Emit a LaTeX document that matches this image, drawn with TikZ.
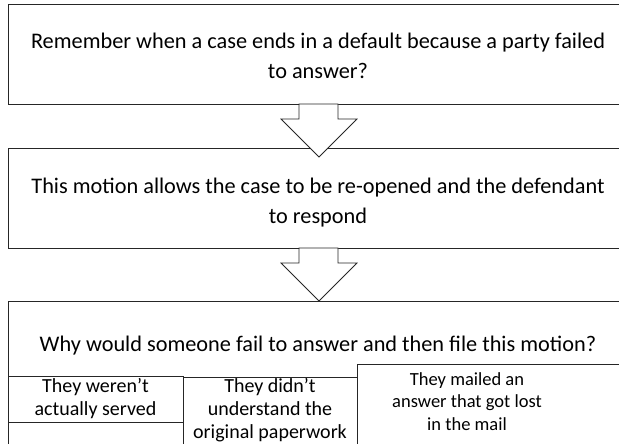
\documentclass[tikz,border=0pt]{standalone}
\usepackage{fontspec}
\setmainfont{Carlito}
\tikzset{
  box/.style={draw=black!85, line width=0.8pt, fill=white},
  bigarrow/.style={draw=black!85, line width=0.8pt, fill=white, line join=miter},
  maintext/.style={font=\fontsize{22.3}{30}\selectfont, align=center, inner sep=0pt, anchor=base},
  subtext/.style={font=\fontsize{20}{23}\selectfont, align=center, inner sep=0pt, anchor=base},
  smalltext/.style={font=\fontsize{18.5}{22.5}\selectfont, align=center, inner sep=0pt, anchor=base}
}
\begin{document}
\begin{tikzpicture}[x=1pt,y=-1pt]
\useasboundingbox (0,0) rectangle (619,444);
\clip (0,0) rectangle (619,444);
% boxes
\path[box] (8,4) rectangle (640,104);
\node[maintext] (t1) at (318,79) {Remember when a case ends in a default because a party failed\\to answer?};
\path[box] (8,148) rectangle (640,248);
\node[maintext] (t2) at (318,223) {This motion allows the case to be re-opened and the defendant\\to respond};
\path[box] (8,301) rectangle (640,460);
\node[maintext] (t3) at (318,351) {Why would someone fail to answer and then file this motion?};
% arrows
\path[bigarrow] (299,104) -- (338,104) -- (338,119) -- (357,119) -- (319,157) -- (281,119) -- (299,119) -- cycle;
\path[bigarrow] (299,248) -- (338,248) -- (338,263) -- (357,263) -- (319,301) -- (281,263) -- (299,263) -- cycle;
% sub boxes
\path[box] (8,376) rectangle (183,422);
\path[box] (8,422) rectangle (183,460);
\path[box] (183,377) rectangle (357,460);
\path[box] (357,364) rectangle (640,460);
\node[subtext] (a) at (95.5,415) {They weren’t\\actually served};
\node[subtext] (b) at (270,438) {They didn’t\\understand the\\original paperwork};
\node[smalltext] (c) at (467,430) {They mailed an\\answer that got lost\\in the mail};
\end{tikzpicture}
\end{document}
